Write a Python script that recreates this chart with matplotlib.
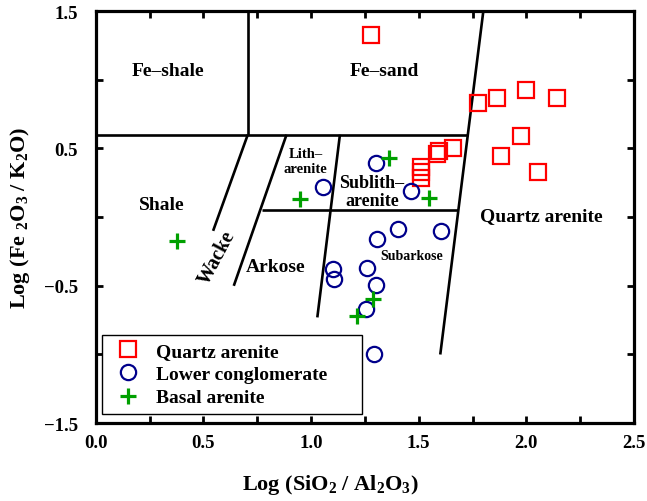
import matplotlib
matplotlib.use("Agg")
import matplotlib.pyplot as plt
from matplotlib.ticker import MultipleLocator

plt.rcParams['font.family'] = ['Liberation Serif', 'DejaVu Serif']
plt.rcParams['font.weight'] = 'bold'
plt.rcParams['axes.labelweight'] = 'bold'
plt.rcParams['mathtext.fontset'] = 'custom'
plt.rcParams['mathtext.rm'] = 'Liberation Serif:bold'
plt.rcParams['mathtext.it'] = 'Liberation Serif:bold'
plt.rcParams['mathtext.bf'] = 'Liberation Serif:bold'
plt.rcParams['mathtext.default'] = 'rm'

# Dados: log(SiO2/Al2O3) x log(Fe2O3/K2O)
quartzo_x = [1.278, 1.775, 1.862, 1.997, 2.142, 1.976, 1.880, 2.054, 1.661, 1.594, 1.586, 1.509, 1.509, 1.509]
quartzo_y = [1.325, 0.830, 0.866, 0.922, 0.866, 0.590, 0.448, 0.327, 0.500, 0.481, 0.460, 0.366, 0.330, 0.282]

conglo_x = [1.301, 1.054, 1.464, 1.307, 1.405, 1.602, 1.100, 1.106, 1.261, 1.301, 1.255, 1.292]
conglo_y = [0.393, 0.218, 0.192, -0.157, -0.090, -0.100, -0.380, -0.452, -0.367, -0.494, -0.670, -0.998]

basal_x = [1.363, 0.948, 1.547, 0.378, 1.286, 1.212]
basal_y = [0.429, 0.133, 0.138, -0.173, -0.598, -0.717]

# Limites dos campos de classificacao (Herron 1988)
linha_h1_x = [0.0, 1.728]
linha_h1_y = [0.6, 0.6]
linha_v1_x = [0.706, 0.706]
linha_v1_y = [1.5, 0.6]
linha_wacke_x = [0.706, 0.545]
linha_wacke_y = [0.6, -0.1]
linha_arkose_x = [0.886, 0.641]
linha_arkose_y = [0.6, -0.5]
linha_lit_x = [1.134, 1.029]
linha_lit_y = [0.6, -0.73]
linha_h2_x = [0.771, 1.684]
linha_h2_y = [0.05, 0.05]
linha_qz_x = [1.80, 1.60]
linha_qz_y = [1.5, -1.0]

# rotulos do eixo y (so os impares aparecem)
y_rotulos = {1.5: "1.5", 0.5: "0.5", -0.5: "\u22120.5", -1.5: "\u22121.5"}

fig, ax = plt.subplots(figsize=(6.47, 5.02), dpi=100)
fig.subplots_adjust(left=0.148, right=0.980, bottom=0.155, top=0.976)

for lx, ly in [(linha_h1_x, linha_h1_y), (linha_v1_x, linha_v1_y),
               (linha_wacke_x, linha_wacke_y), (linha_arkose_x, linha_arkose_y),
               (linha_lit_x, linha_lit_y), (linha_h2_x, linha_h2_y),
               (linha_qz_x, linha_qz_y)]:
    ax.plot(lx, ly, color="black", lw=1.9, solid_capstyle="butt", zorder=1)

ax.plot(quartzo_x, quartzo_y, ls="none", marker="s", ms=11, mfc="none",
        mec="#ff0000", mew=1.6, label="Quartz arenite", zorder=3)
ax.plot(conglo_x, conglo_y, ls="none", marker="o", ms=11, mfc="none",
        mec="#00008b", mew=1.6, label="Lower conglomerate", zorder=3)
ax.plot(basal_x, basal_y, ls="none", marker="+", ms=12, mec="#00a000",
        mew=2.3, label="Basal arenite", zorder=4)

# Nomes dos campos
ax.text(0.335, 1.07, "Fe\u2013shale", ha="center", va="center", fontsize=14)
ax.text(1.338, 1.07, "Fe\u2013sand", ha="center", va="center", fontsize=14)
ax.text(0.307, 0.094, "Shale", ha="center", va="center", fontsize=14)
ax.text(0.565, -0.29, "Wacke", ha="center", va="center", fontsize=14.5, rotation=62)
ax.text(0.835, -0.357, "Arkose", ha="center", va="center", fontsize=14)
ax.text(0.975, 0.405, "Lith\u2013\narenite", ha="center", va="center", fontsize=10.5,
        linespacing=1.2)
ax.text(1.283, 0.185, "Sublith\u2013\narenite", ha="center", va="center", fontsize=13,
        linespacing=1.05)
ax.text(1.468, -0.277, "Subarkose", ha="center", va="center", fontsize=10)
ax.text(2.068, 0.014, "Quartz arenite", ha="center", va="center", fontsize=14)

ax.set_xlim(0, 2.5)
ax.set_ylim(-1.5, 1.5)
ax.xaxis.set_major_locator(MultipleLocator(0.5))
ax.xaxis.set_minor_locator(MultipleLocator(0.25))
ax.yaxis.set_major_locator(MultipleLocator(0.5))
ax.xaxis.set_major_formatter(plt.FuncFormatter(lambda v, p: "%.1f" % v))
ax.yaxis.set_major_formatter(plt.FuncFormatter(lambda v, p: y_rotulos.get(round(v, 2), "")))
ax.tick_params(which="both", direction="in", top=True, right=True, labelsize=13.5,
               width=2, length=5)
ax.tick_params(axis="x", pad=8)
ax.tick_params(axis="y", pad=13)
for s in ax.spines.values():
    s.set_linewidth(2.3)

ax.set_xlabel(r"Log (SiO$_2$ / Al$_2$O$_3$)", fontsize=16)
ax.set_ylabel(r"Log (Fe $_2$O$_3$ / K$_2$O)", fontsize=16)
ax.xaxis.set_label_coords(0.435, -0.118)
ax.yaxis.set_label_coords(-0.118, 0.5)

leg = ax.legend(loc="lower left", bbox_to_anchor=(0.011, 0.022, 0.483, 0.2),
                mode="expand", borderaxespad=0, fancybox=False, framealpha=1,
                edgecolor="black", fontsize=14, handletextpad=0.5,
                labelspacing=0.28, borderpad=0.4, handlelength=1.9)
leg.get_frame().set_linewidth(1.0)

plt.savefig("out.png", dpi=100)
